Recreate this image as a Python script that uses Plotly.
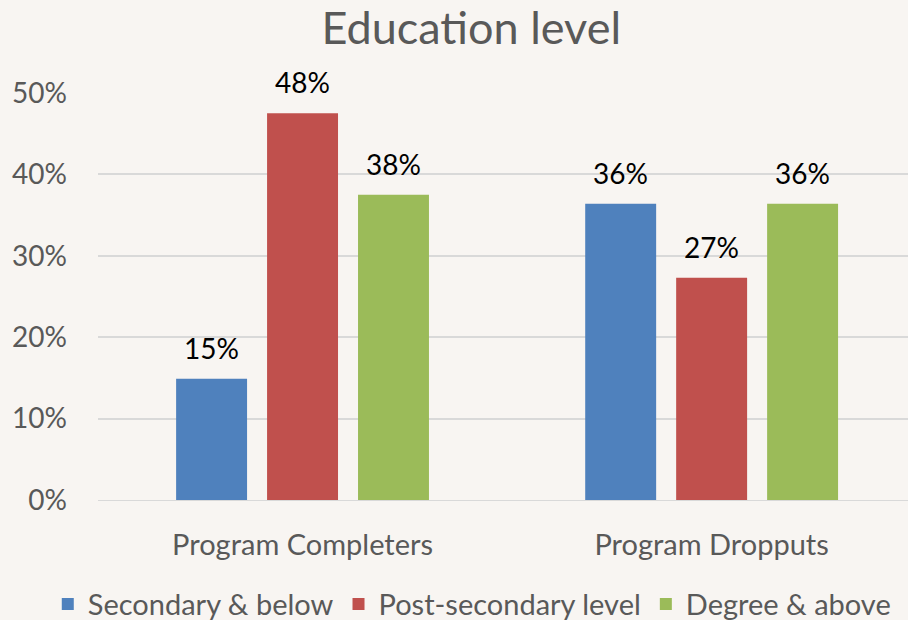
import plotly.graph_objects as go

# Chart data
categories = ["Program Completers", "Program Dropputs"]
series_names = ["Secondary & below", "Post-secondary level", "Degree & above"]
secondary = [14.9, 36.4]
post_secondary = [47.5, 27.3]
degree = [37.5, 36.4]
y_ticks = [0, 10, 20, 30, 40, 50]
y_tick_labels = ["0%", "10%", "20%", "30%", "40%", "50%"]

colors = ["#4f81bd", "#c0504d", "#9bbb59"]
font_family = "Lato, 'Open Sans', sans-serif"
grey = "#595959"
slot_px = 91  # width of one bar slot inside a group, in pixels

fig = go.Figure()
all_series = [secondary, post_secondary, degree]
for i, (name, vals, col) in enumerate(zip(series_names, all_series, colors)):
    fig.add_trace(go.Bar(
        x=categories, y=vals, name=name,
        marker=dict(color=col, line=dict(width=0)),
    ))
    # value labels sit a bit higher above the bars than plotly's own "outside" text
    for cat, v in zip(categories, vals):
        fig.add_annotation(
            x=cat, y=v, text=f"{v:.0f}%", showarrow=False,
            xshift=(i - 1) * slot_px, yshift=31, yanchor="middle",
            font=dict(size=28, color="black", family=font_family),
        )

fig.update_layout(
    width=908, height=620,
    margin=dict(l=98, r=0, t=93, b=120, autoexpand=False),
    paper_bgcolor="#f8f5f2", plot_bgcolor="#f8f5f2",
    title=dict(text="Education level", x=0.519, xanchor="center", y=0.955, yanchor="middle",
               font=dict(size=45, color=grey, family=font_family)),
    barmode="group", bargap=0.333, bargroupgap=0.22,
    font=dict(family=font_family, color=grey),
    showlegend=True,
    # anchored left of the plot area so the legend may use the full page width
    legend=dict(orientation="h", x=-0.062, xanchor="left", y=-0.256, yanchor="middle",
                font=dict(size=29, color=grey, family=font_family),
                itemwidth=30, tracegroupgap=0, bgcolor="rgba(0,0,0,0)"),
)

fig.update_xaxes(range=[-0.5, 1.48], showgrid=False, showline=True, linecolor="#d9d9d9",
                 tickfont=dict(size=29, color=grey), ticklabelstandoff=19, ticks="")
fig.update_yaxes(range=[0, 50], tickmode="array", tickvals=y_ticks, ticktext=y_tick_labels,
                 showgrid=True, gridcolor="#d9d9d9", gridwidth=1.5, zeroline=False,
                 tickfont=dict(size=28, color=grey), ticklabelstandoff=30)

fig.write_html("out.html", config={"displayModeBar": False},
               post_script="document.body.style.margin='0';")
